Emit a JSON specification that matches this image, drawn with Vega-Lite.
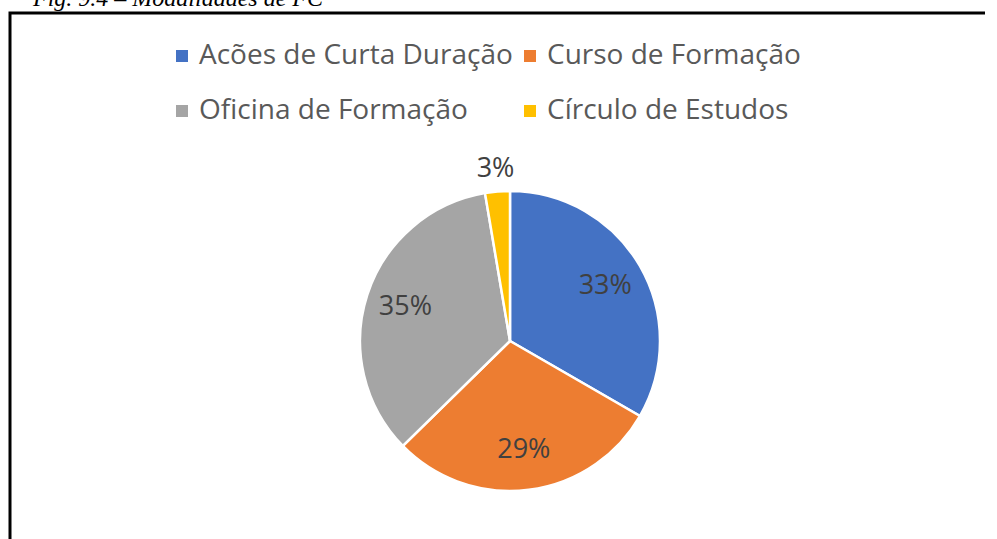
{
  "$schema": "https://vega.github.io/schema/vega-lite/v6.json",
  "autosize": {"type": "none"},
  "padding": {"left": 10, "top": 13, "right": -13, "bottom": -130},
  "width": 1000,
  "height": 656,
  "background": "white",
  "view": {"stroke": "#000000", "strokeWidth": 3, "strokeDash": [975, 1300, 5000]},
  "config": {
    "view": {"stroke": "#000000", "strokeWidth": 3, "strokeDash": [975, 1300, 5000]},
    "font": "Open Sans"
  },
  "title": {
    "text": "Fig. 9.4 – Modalidades de FC",
    "anchor": "start",
    "font": "Liberation Serif",
    "fontStyle": "italic",
    "fontWeight": "normal",
    "fontSize": 24,
    "color": "#000000",
    "dx": 23,
    "dy": 17,
    "offset": 0,
    "baseline": "alphabetic"
  },
  "data": {
    "values": [
      {"cat": "Acões de Curta Duração", "n": 25, "pct": "33%", "idx": 1},
      {"cat": "Curso de Formação", "n": 22, "pct": "29%", "idx": 2},
      {"cat": "Oficina de Formação", "n": 26, "pct": "35%", "idx": 3},
      {"cat": "Círculo de Estudos", "n": 2, "pct": "3%", "idx": 4}
    ]
  },
  "encoding": {
    "theta": {"field": "n", "type": "quantitative", "stack": true},
    "order": {"field": "idx", "type": "quantitative"}
  },
  "layer": [
    {
      "mark": {"type": "arc", "outerRadius": 150, "stroke": "white", "strokeWidth": 2.5},
      "encoding": {
        "color": {
          "field": "cat",
          "type": "nominal",
          "scale": {
            "domain": ["Acões de Curta Duração", "Oficina de Formação", "Curso de Formação", "Círculo de Estudos"],
            "range": ["#4472C4", "#A5A5A5", "#ED7D31", "#FFC000"]
          },
          "legend": {
            "title": null,
            "orient": "none",
            "legendX": 158,
            "legendY": 29,
            "columns": 2,
            "columnPadding": 3,
            "rowPadding": 27,
            "symbolType": "square",
            "symbolSize": 144,
            "symbolStrokeWidth": 0,
            "labelFont": "Open Sans",
            "labelFontSize": 28,
            "labelColor": "#595959",
            "labelOffset": 3,
            "labelLimit": 0
          }
        }
      }
    },
    {
      "mark": {"type": "text", "radius": 110, "font": "Open Sans", "fontSize": 27, "fill": "#404040"},
      "encoding": {
        "detail": {"field": "cat", "type": "nominal"},
        "text": {"condition": {"test": "datum.cat !== 'Círculo de Estudos'", "field": "pct", "type": "nominal"}, "value": ""}
      }
    },
    {
      "mark": {"type": "text", "radius": 173, "font": "Open Sans", "fontSize": 27, "fill": "#404040"},
      "encoding": {
        "detail": {"field": "cat", "type": "nominal"},
        "text": {"condition": {"test": "datum.cat === 'Círculo de Estudos'", "field": "pct", "type": "nominal"}, "value": ""}
      }
    }
  ]
}
